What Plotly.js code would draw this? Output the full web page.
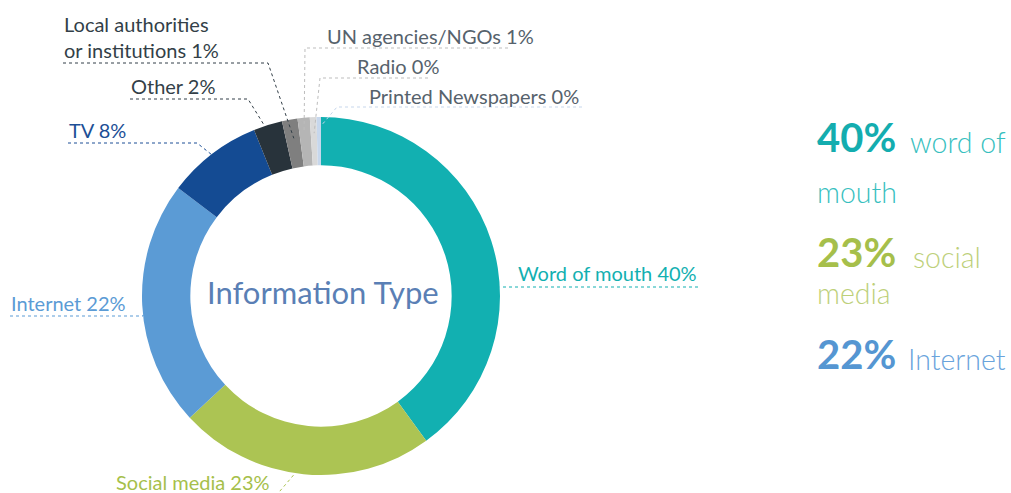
<!DOCTYPE html>
<html>
<head>
<meta charset="utf-8">
<script src="https://cdn.plot.ly/plotly-3.0.1.min.js"></script>
<style>
html, body { margin: 0; padding: 0; background: #fff; }
#myPlot { width: 1011px; height: 493px; }
</style>
</head>
<body>
<div id="myPlot"></div>
<script>
// Data
var labels = ["Word of mouth", "Social media", "Internet", "TV", "Other",
    "Local authorities or institutions", "UN agencies/NGOs", "Radio", "Printed Newspapers"];
var labelText = ["Word of mouth", "Social media", "Internet", "TV", "Other",
    "Local authorities<br>or institutions", "UN agencies/NGOs", "Radio", "Printed Newspapers"];
var values = [40.0, 23.1, 22.2, 8.6, 2.6, 1.4, 1.1, 0.6, 0.4];
var shownPct = [40, 23, 22, 8, 2, 1, 1, 0, 0];

var highlightIdx = [0, 1, 2];
var highlightLine1 = ["word of", "social", "Internet"];
var highlightLine2 = ["mouth", "media", ""];

var sliceColors = ["#12b0b1", "#acc453", "#5b9bd5", "#144b93", "#28333b",
    "#7f7f7f", "#b5b5b5", "#d9d9d9", "#c7d7ec"];
var textColors = ["#12b0b1", "#a6bf4b", "#5b9bd5", "#1c4f96", "#333f48",
    "#333f48", "#56626c", "#56626c", "#56626c"];
var lineColors = ["#12b0b1", "#acc453", "#5b9bd5", "#1c4f96", "#333f48",
    "#333f48", "#bdbdbd", "#bdbdbd", "#c7d7ec"];

// Geometry (pixels)
var W = 1011, H = 493;
var CX = 321, CY = 296, R = 179;
var PAD = 1; // annotation box padding for labels
function px(x) { return x / W; }
function py(y) { return 1 - y / H; }

// label placement: text pos, underline (far x, near x, y), anchor inside slice
var place = [
    { x: 698, y: 273, xa: "right", far: 698, near: 500, uy: 287, f: 0.605, r: 179 },
    { x: 115, y: 482, xa: "left",  far: 115, near: 274, uy: 498, f: 0.53,  r: 178 },
    { x: 10,  y: 303, xa: "left",  far: 10,  near: 143, uy: 316, f: 0.46,  r: 179 },
    { x: 68,  y: 130, xa: "left",  far: 68,  near: 197, uy: 143, f: 0.49,  r: 179 },
    { x: 130, y: 86,  xa: "left",  far: 130, near: 248, uy: 99,  f: 0.38,  r: 180 },
    { x: 63,  y: 37,  xa: "left",  far: 63,  near: 268, uy: 63,  f: 0.56,  r: 160 },
    { x: 326, y: 36,  xa: "left",  far: 508, near: 305, uy: 48,  f: 0.41,  r: 164 },
    { x: 356, y: 66,  xa: "left",  far: 428, near: 320, uy: 78,  f: 0.55,  r: 163 },
    { x: 368, y: 96,  xa: "left",  far: 582, near: 337, uy: 107, f: 0.78,  r: 169 }
];

var total = values.reduce(function (a, b) { return a + b; }, 0);
var cum = 0;
var shapes = [];
var annotations = [];

for (var i = 0; i < values.length; i++) {
    var p = place[i];
    var a0 = cum / total * 2 * Math.PI;
    cum += values[i];
    var a1 = cum / total * 2 * Math.PI;
    var ang = a0 + (a1 - a0) * p.f;
    var ax = CX + p.r * Math.sin(ang);
    var ay = CY - p.r * Math.cos(ang);

    shapes.push({
        type: "path", xref: "paper", yref: "paper",
        path: "M " + px(p.far) + "," + py(p.uy) + " L " + px(p.near) + "," + py(p.uy) +
              " L " + px(ax) + "," + py(ay),
        line: { color: lineColors[i], width: 1, dash: "dot" }
    });

    annotations.push({
        xref: "paper", yref: "paper",
        x: px(p.xa === "left" ? p.x - PAD : p.x + PAD), y: py(p.y),
        xanchor: p.xa, yanchor: "middle", showarrow: false, align: "left",
        text: labelText[i] + " " + shownPct[i] + "%",
        font: { family: "Lato", size: 20, color: textColors[i] }
    });
}

// center title
annotations.push({
    xref: "paper", yref: "paper", x: px(CX + 2), y: py(292),
    xanchor: "center", yanchor: "middle", showarrow: false,
    text: "Information Type",
    font: { family: "Lato", size: 31, color: "#5a7fb5" }
});

// highlight block on the right
var pctColors = ["#14adaf", "#a6bf4b", "#5596d2"];
var wordColors = ["#38bfc0", "#bdd07a", "#6aa4dc"];
var pctY = [137, 252, 354];
var line2Y = [192, 293, null];
var wordX = [911, 914, 909];
for (var k = 0; k < highlightIdx.length; k++) {
    var idx = highlightIdx[k];
    annotations.push({
        xref: "paper", yref: "paper", x: px(815), y: py(pctY[k]),
        xanchor: "left", yanchor: "middle", showarrow: false,
        text: "<b>" + shownPct[idx] + "%</b>",
        font: { family: "Lato", size: 40, color: pctColors[k] }
    });
    annotations.push({
        xref: "paper", yref: "paper", x: px(wordX[k] - 3), y: py(pctY[k] + 5),
        xanchor: "left", yanchor: "middle", showarrow: false,
        text: "<span style='font-weight:300'>" + highlightLine1[k] + "</span>",
        font: { family: "Lato", size: 28.5, color: wordColors[k] }
    });
    if (highlightLine2[k]) {
        annotations.push({
            xref: "paper", yref: "paper", x: px(815), y: py(line2Y[k]),
            xanchor: "left", yanchor: "middle", showarrow: false,
            text: "<span style='font-weight:300'>" + highlightLine2[k] + "</span>",
            font: { family: "Lato", size: 28.5, color: wordColors[k] }
        });
    }
}

var data = [{
    type: "pie",
    labels: labels,
    values: values,
    hole: 0.73,
    sort: false,
    direction: "clockwise",
    rotation: 0,
    textinfo: "none",
    hoverinfo: "label+percent",
    marker: { colors: sliceColors, line: { width: 0 } },
    domain: { x: [px(CX - R), px(CX + R)], y: [py(CY + R), py(CY - R)] }
}];

var layout = {
    width: W,
    height: H,
    margin: { l: 0, r: 0, t: 0, b: 0 },
    paper_bgcolor: "#ffffff",
    showlegend: false,
    font: { family: "Lato" },
    shapes: shapes,
    annotations: annotations
};

Plotly.newPlot("myPlot", data, layout, { displayModeBar: false, staticPlot: true });
</script>
</body>
</html>
